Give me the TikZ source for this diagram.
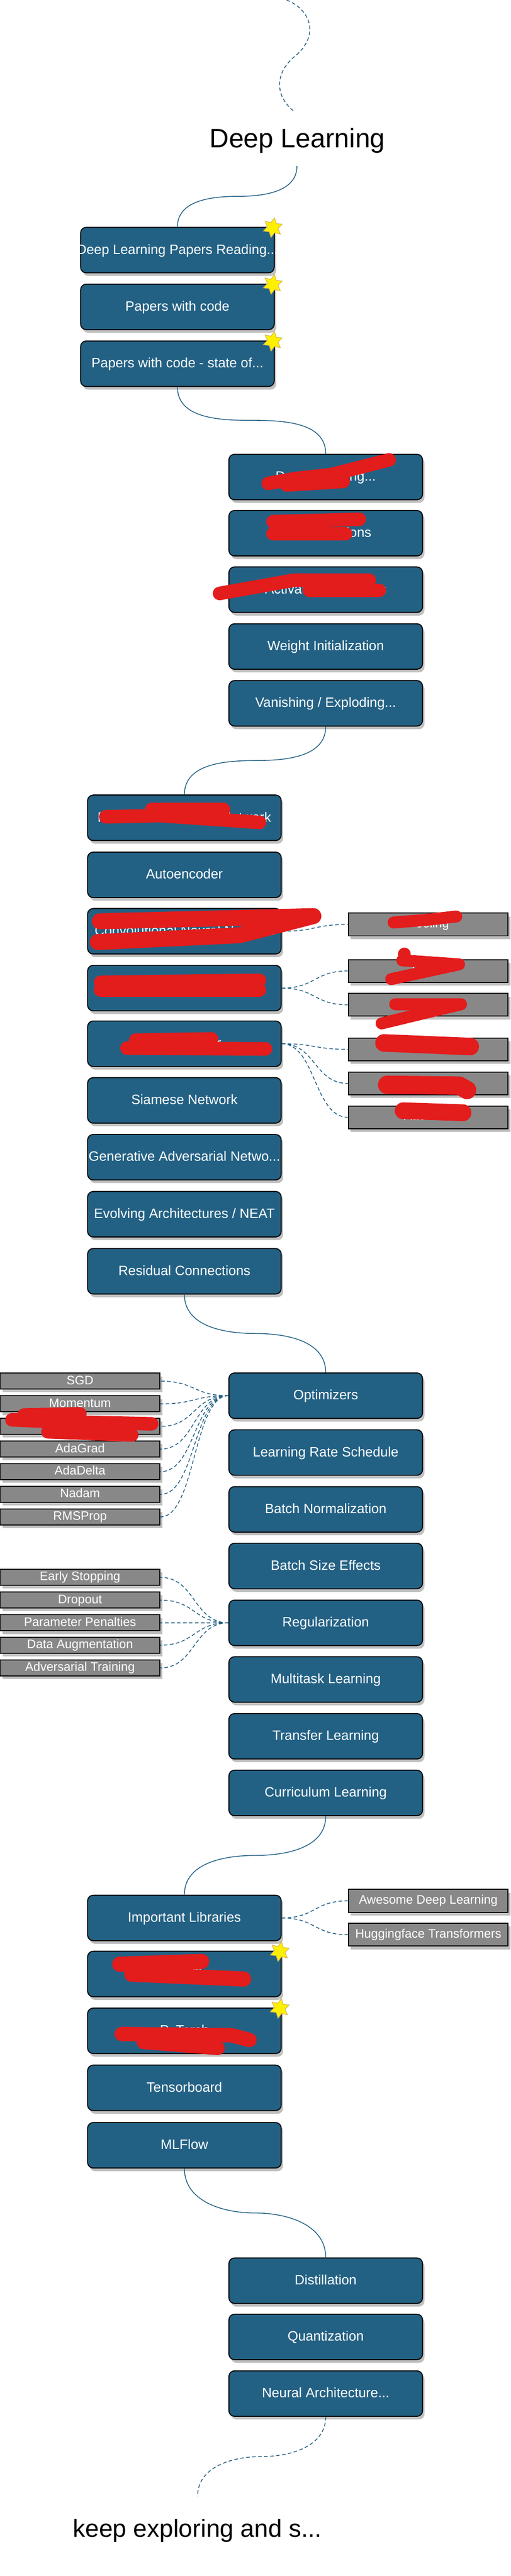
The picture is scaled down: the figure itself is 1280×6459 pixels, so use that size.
\documentclass[tikz,border=0pt]{standalone}
\usepackage{fontspec}
\setmainfont{Liberation Sans}
\usetikzlibrary{shapes.geometric,shadows,calc}
\definecolor{boxblue}{RGB}{35,97,132}
\definecolor{linkblue}{RGB}{35,97,132}
\definecolor{boxgray}{RGB}{136,136,136}
\definecolor{shadowgray}{RGB}{192,192,192}
\definecolor{scribred}{RGB}{227,28,28}
\definecolor{staryellow}{RGB}{255,240,0}
\definecolor{starline}{RGB}{214,182,86}
\newcommand{\bxt}[1]{\makebox[0pt]{#1}}
\tikzset{
  bbox/.style={rectangle, rounded corners=14pt, draw=black, line width=2.5pt, fill=boxblue,
    text=white, minimum width=485pt, minimum height=114pt, inner sep=0pt,
    font=\fontsize{34}{40}\selectfont, text height=24.5pt, text depth=4.4pt,
    drop shadow={shadow xshift=5pt, shadow yshift=-8pt, fill=shadowgray, opacity=1}},
  gbox/.style={rectangle, draw=black, line width=2.5pt, fill=boxgray,
    text=white, minimum width=400pt, minimum height=57pt, inner sep=0pt,
    font=\fontsize{31}{36}\selectfont, text height=22.3pt, text depth=6.2pt,
    drop shadow={shadow xshift=6pt, shadow yshift=-8pt, fill=shadowgray, opacity=1}},
  gsmall/.style={gbox, minimum height=40pt},
  link/.style={draw=linkblue, line width=2pt},
  dlink/.style={link, dash pattern=on 9pt off 6pt},
  scrib/.style={draw=scribred, line width=34pt, line cap=round, line join=round},
  starx/.style={star, star points=6, star point ratio=1.85, minimum size=50pt, inner sep=0pt,
    fill=staryellow, draw=starline, line width=1.5pt, shape border rotate=-10},
  bigtext/.style={anchor=base, inner sep=0pt, text=black},
}
\begin{document}
\begin{tikzpicture}[x=1pt,y=-1pt]
\useasboundingbox (0,0) rectangle (1280,6459);

% ---- title and top dashed tail
\coordinate (top0) at (718,0);
\coordinate (top1) at (739,281);
\draw[dlink] (top0) .. controls (780,25) and (800,90) .. (740,140) .. controls (690,180) and (685,240) .. (top1);
\node[bigtext, font=\fontsize{67}{80}\selectfont] (title) at (745,370) {Deep Learning};
\coordinate (tA) at (744,416);

% ---- section 1
\node[bbox] (p1) at (444.5,627) {\bxt{Deep Learning Papers Reading...}};
\node[bbox] (p2) at (444.5,769.5) {\bxt{Papers with code}};
\node[bbox] (p3) at (444.5,912) {\bxt{Papers with code - state of...}};

% ---- section 2
\node[bbox] (s1) at (816,1196) {\bxt{Deep Learning...}};
\node[bbox] (s2) at (816,1337) {\bxt{Loss Functions}};
\node[bbox] (s3) at (816,1478.5) {\bxt{Activation Functions}};
\node[bbox] (s4) at (816,1621) {\bxt{Weight Initialization}};
\node[bbox] (s5) at (816,1763.5) {\bxt{Vanishing / Exploding...}};

% ---- section 3
\node[bbox] (n1) at (462,2050.5) {\bxt{Feedforward Neural Network}};
\node[bbox] (n2) at (462,2193.5) {\bxt{Autoencoder}};
\node[bbox] (n3) at (462,2335) {\bxt{Convolutional Neural Network}};
\node[bbox] (n4) at (462,2477.5) {\bxt{Recurrent Neural Network}};
\node[bbox] (n5) at (462,2617) {\bxt{Transformer}};
\node[bbox] (n6) at (462,2759) {\bxt{Siamese Network}};
\node[bbox] (n7) at (462,2901.5) {\bxt{Generative Adversarial Netwo...}};
\node[bbox] (n8) at (462,3044.5) {\bxt{Evolving Architectures / NEAT}};
\node[bbox] (n9) at (462,3187.5) {\bxt{Residual Connections}};

\node[gbox] (c1) at (1073,2318) {Pooling};
\node[gbox] (r1) at (1073,2434.5) {LSTM};
\node[gbox] (r2) at (1073,2519.5) {GRU};
\node[gbox] (t1) at (1073,2631) {Encoder};
\node[gbox] (t2) at (1073,2716.5) {Decoder};
\node[gbox] (t3) at (1073,2801.5) {Attention};

% ---- section 4
\node[bbox] (o1) at (816,3499.5) {\bxt{Optimizers}};
\node[bbox] (o2) at (816,3642) {\bxt{Learning Rate Schedule}};
\node[bbox] (o3) at (816,3784.5) {\bxt{Batch Normalization}};
\node[bbox] (o4) at (816,3926.5) {\bxt{Batch Size Effects}};
\node[bbox] (o5) at (816,4069) {\bxt{Regularization}};
\node[bbox] (o6) at (816,4211) {\bxt{Multitask Learning}};
\node[bbox] (o7) at (816,4353.5) {\bxt{Transfer Learning}};
\node[bbox] (o8) at (816,4495.5) {\bxt{Curriculum Learning}};

\node[gsmall] (sgd) at (200.5,3463) {SGD};
\node[gsmall] (mom) at (200.5,3520) {Momentum};
\node[gsmall] (adam) at (200.5,3576.5) {Adam};
\node[gsmall] (adag) at (200.5,3633.5) {AdaGrad};
\node[gsmall] (adad) at (200.5,3690) {AdaDelta};
\node[gsmall] (nadam) at (200.5,3747) {Nadam};
\node[gsmall] (rms) at (200.5,3803.5) {RMSProp};

\node[gsmall] (es) at (200.5,3955) {Early Stopping};
\node[gsmall] (dro) at (200.5,4012) {Dropout};
\node[gsmall] (pp) at (200.5,4069) {Parameter Penalties};
\node[gsmall] (da) at (200.5,4125) {Data Augmentation};
\node[gsmall] (at) at (200.5,4182) {Adversarial Training};

% ---- section 5
\node[bbox] (l1) at (462,4809) {\bxt{Important Libraries}};
\node[bbox] (l2) at (462,4949.5) {\bxt{TensorFlow}};
\node[bbox] (l3) at (462,5092) {\bxt{PyTorch}};
\node[bbox] (l4) at (462,5235) {\bxt{Tensorboard}};
\node[bbox] (l5) at (462,5379) {\bxt{MLFlow}};

\node[gbox] (aw) at (1073,4766) {Awesome Deep Learning};
\node[gbox] (hf) at (1073,4851) {Huggingface Transformers};

% ---- section 6
\node[bbox] (d1) at (816,5718.5) {\bxt{Distillation}};
\node[bbox] (d2) at (816,5859.5) {\bxt{Quantization}};
\node[bbox] (d3) at (816,6001.5) {\bxt{Neural Architecture...}};

\coordinate (eB) at (495,6259);
\node[bigtext, font=\fontsize{62}{74}\selectfont] (endtext) at (494.5,6362) {keep exploring and s...};

% ---- main solid curves
\draw[link] (tA) to[out=-90,in=0] ($(tA)!0.5!(p1.north)$) to[out=180,in=90] (p1.north);
\draw[link] (p3.south) to[out=-90,in=180] ($(p3.south)!0.5!(s1.north)$) to[out=0,in=90] (s1.north);
\draw[link] (s5.south) to[out=-90,in=0] ($(s5.south)!0.5!(n1.north)$) to[out=180,in=90] (n1.north);
\draw[link] (n9.south) to[out=-90,in=180] ($(n9.south)!0.5!(o1.north)$) to[out=0,in=90] (o1.north);
\draw[link] (o8.south) to[out=-90,in=0] ($(o8.south)!0.5!(l1.north)$) to[out=180,in=90] (l1.north);
\draw[link] (l5.south) to[out=-90,in=180] ($(l5.south)!0.5!(d1.north)$) to[out=0,in=90] (d1.north);
\draw[dlink] (d3.south) to[out=-90,in=0] ($(d3.south)!0.5!(eB)$) to[out=180,in=90] (eB);

% ---- dashed side connectors
\foreach \a/\b in {n3/c1, n4/r1, n4/r2, n5/t1, n5/t2, n5/t3, l1/aw, l1/hf}
  \draw[dlink] (\a.east) .. controls +(85,0) and +(-85,0) .. (\b.west);
\foreach \b in {sgd, mom, adam, adag, adad, nadam, rms}
  \draw[dlink] (o1.west) .. controls +(-88,0) and +(88,0) .. (\b.east);
\foreach \b in {es, dro, pp, da, at}
  \draw[dlink] (o5.west) .. controls +(-88,0) and +(88,0) .. (\b.east);

% ---- stars
\node[starx] (st1) at ($(p1.north east)+(-5,2)$) {};
\node[starx] (st2) at ($(p2.north east)+(-5,2)$) {};
\node[starx] (st3) at ($(p3.north east)+(-5,2)$) {};
\node[starx] (st4) at ($(l2.north east)+(-5,2)$) {};
\node[starx] (st5) at ($(l3.north east)+(-5,2)$) {};

% ---- red scribbles
\draw[scrib] (672,1212) -- (740,1200) -- (830,1190) -- (975,1153);
\draw[scrib] (718,1216) -- (860,1207);
\draw[scrib] (684,1308) -- (900,1302);
\draw[scrib] (684,1338) -- (866,1338);
\draw[scrib] (550,1488) -- (735,1455) -- (925,1455);
\draw[scrib] (775,1480) -- (950,1480);
\draw[scrib] (265,2048) -- (400,2045) -- (650,2062);
\draw[scrib] (380,2030) -- (560,2030);
\draw[scrib, line width=40pt] (250,2310) -- (785,2297) -- (600,2345) -- (245,2362);
\draw[scrib] (252,2463) -- (650,2458);
\draw[scrib] (252,2482) -- (650,2482);
\draw[scrib] (318,2628) -- (665,2630);
\draw[scrib] (340,2608) -- (530,2605);
\draw[scrib, line width=30pt] (986,2313) -- (1063,2307) -- (1143,2298);
\fill[scribred] (1013,2392) circle (16);
\draw[scrib, line width=30pt] (1008,2408) -- (1150,2418) -- (980,2455);
\draw[scrib, line width=30pt] (990,2518) -- (1155,2518) -- (956,2566);
\draw[scrib, line width=44pt] (962,2615) -- (1178,2624);
\draw[scrib, line width=46pt] (970,2720) -- (1150,2722) -- (1170,2733);
\draw[scrib, line width=42pt] (1010,2785) -- (1160,2790);
\draw[scrib] (30,3560) -- (150,3565) -- (380,3570);
\draw[scrib] (120,3590) -- (330,3598);
\draw[scrib] (60,3548) -- (200,3545);
\draw[scrib, line width=38pt] (300,4925) -- (505,4918);
\draw[scrib, line width=38pt] (330,4950) -- (610,4962);
\draw[scrib, line width=36pt] (305,5100) -- (580,5103) -- (625,5115);
\draw[scrib, line width=36pt] (360,5120) -- (545,5135);
\end{tikzpicture}
\end{document}
